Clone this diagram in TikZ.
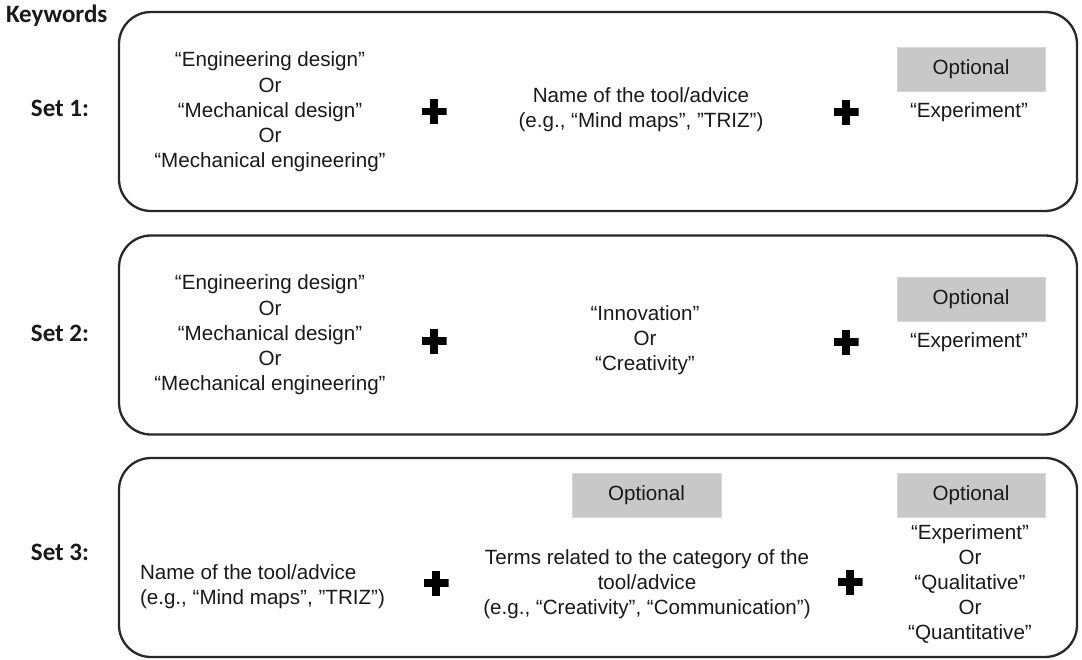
\documentclass[tikz,border=0pt]{standalone}
\usepackage{fontspec}
\setmainfont{Liberation Sans}
\newfontfamily\lblfont{Carlito}
\definecolor{txt}{RGB}{25,25,25}
\definecolor{optfill}{RGB}{200,200,200}
\definecolor{optline}{RGB}{215,215,215}
\definecolor{boxline}{RGB}{40,40,40}
\begin{document}
\begin{tikzpicture}[x=1pt,y=-1pt,
  every node/.style={inner sep=0pt, outer sep=0pt, text=txt},
  body/.style={font=\fontsize{20.6}{25.2}\selectfont, align=center},
  lbl/.style={font=\lblfont\bfseries\fontsize{25}{30}\selectfont},
  setbox/.style={draw=boxline, line width=2.3pt, rounded corners=32pt, minimum width=958pt, minimum height=199pt},
  optbox/.style={fill=optfill, draw=optline, line width=1pt, minimum width=148pt, minimum height=44pt, font=\fontsize{20.6}{25}\selectfont},
  plussign/.style={minimum size=25pt, path picture={
      \fill[black] ([xshift=-12.5pt,yshift=-3.6pt]path picture bounding box.center) rectangle ([xshift=12.5pt,yshift=3.6pt]path picture bounding box.center);
      \fill[black] ([xshift=-3.6pt,yshift=-12.5pt]path picture bounding box.center) rectangle ([xshift=3.6pt,yshift=12.5pt]path picture bounding box.center);}}
]
\useasboundingbox (0,0) rectangle (1082,659);

\node[lbl, anchor=base west] (kw) at (6,22) {Keywords};

% ---------- Set 1 ----------
\node[setbox] (b1) at (598,111.5) {};
\node[lbl] (s1) at (60,108) {Set 1:};
\node[body] (c11) at (270,112) {“Engineering design”\\Or\\“Mechanical design”\\Or\\“Mechanical engineering”};
\node[plussign] (p11) at (434,111.5) {};
\node[body] (c12) at (641,110) {Name of the tool/advice\\(e.g., “Mind maps”, "TRIZ")};
\node[plussign] (p12) at (846,112) {};
\node[optbox] (o1) at (971,69) {Optional};
\node[body] (c13) at (969,112) {“Experiment”};

% ---------- Set 2 ----------
\node[setbox] (b2) at (598,335) {};
\node[lbl] (s2) at (60,333) {Set 2:};
\node[body] (c21) at (270,335) {“Engineering design”\\Or\\“Mechanical design”\\Or\\“Mechanical engineering”};
\node[plussign] (p21) at (434,341) {};
\node[body] (c22) at (645,340) {“Innovation”\\Or\\“Creativity”};
\node[plussign] (p22) at (846,342) {};
\node[optbox] (o2) at (971,299) {Optional};
\node[body] (c23) at (969,342) {“Experiment”};

% ---------- Set 3 ----------
\node[setbox] (b3) at (598,557.5) {};
\node[lbl] (s3) at (60,552) {Set 3:};
\node[body, align=left, anchor=west] (c31) at (140,587) {Name of the tool/advice\\(e.g., “Mind maps”, "TRIZ")};
\node[plussign] (p31) at (436,583) {};
\node[optbox, minimum width=149pt] (o31) at (646.5,495) {Optional};
\node[body] (c32) at (647,584) {Terms related to the category of the\\tool/advice\\(e.g., “Creativity”, “Communication”)};
\node[plussign] (p32) at (850,582) {};
\node[optbox] (o32) at (971,495) {Optional};
\node[body] (c33) at (970,584) {“Experiment”\\Or\\“Qualitative”\\Or\\“Quantitative”};
\end{tikzpicture}
\end{document}
